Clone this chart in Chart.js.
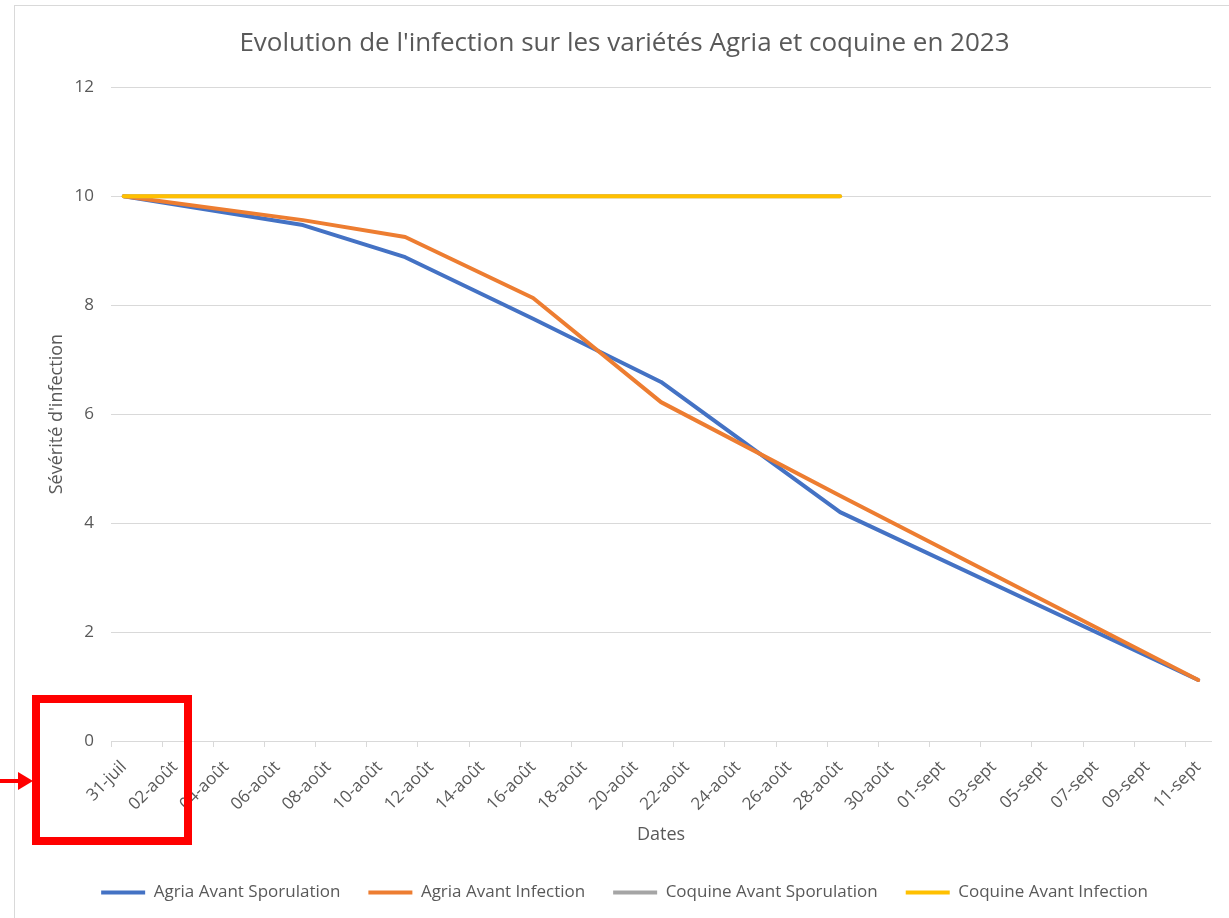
<!DOCTYPE html>
<html>
<head>
<meta charset="utf-8">
<script src="https://cdn.jsdelivr.net/npm/chart.js@4.4.1/dist/chart.umd.min.js"></script>
<style>
  html, body { margin: 0; padding: 0; background: #ffffff; }
  #wrap { position: relative; width: 1229px; height: 918px; overflow: hidden; }
  #frame { position: absolute; left: 14px; top: 5px; width: 1300px; height: 1000px; border: 1px solid #d9d9d9; box-sizing: border-box; }
  canvas { position: absolute; left: 0; top: 0; }
  #annot { position: absolute; left: 0; top: 0; pointer-events: none; }
</style>
</head>
<body>
<div id="wrap">
  <div id="frame"></div>
  <canvas id="c" width="1229" height="918"></canvas>
  <svg id="annot" width="1229" height="918">
    <rect x="36" y="699" width="152" height="142" fill="none" stroke="#ff0000" stroke-width="8"/>
    <line x1="0" y1="781" x2="20" y2="781" stroke="#ff0000" stroke-width="4"/>
    <polygon points="18,772 33,781 18,790" fill="#ff0000"/>
  </svg>
</div>
<script>
// Tick labels / categories of the date axis (one per day)
const axisDays = [
  '31-juil',
  '01-août','02-août','03-août','04-août','05-août','06-août','07-août','08-août','09-août','10-août',
  '11-août','12-août','13-août','14-août','15-août','16-août','17-août','18-août','19-août','20-août',
  '21-août','22-août','23-août','24-août','25-août','26-août','27-août','28-août','29-août','30-août','31-août',
  '01-sept','02-sept','03-sept','04-sept','05-sept','06-sept','07-sept','08-sept','09-sept','10-sept','11-sept'
];

// Observation dates
const obsDates = ['31-juil','07-août','11-août','16-août','21-août','28-août','11-sept'];

// Series values
const agriaSporulation  = [10, 9.47, 8.88, 7.75, 6.59, 4.20, 1.12];
const agriaInfection    = [10, 9.56, 9.25, 8.13, 6.22, 4.50, 1.12];
const coquineSporulation = [10, 10, 10, 10, 10, 10];
const coquineInfection   = [10, 10, 10, 10, 10, 10];

const seriesNames = ['Agria Avant Sporulation','Agria Avant Infection','Coquine Avant Sporulation','Coquine Avant Infection'];
const seriesColors = ['#4472C4','#ED7D31','#A5A5A5','#FFC000'];
const seriesValues = [agriaSporulation, agriaInfection, coquineSporulation, coquineInfection];

const FONT = "'Open Sans', 'Noto Sans', sans-serif";
const TXT = '#595959';

const datasets = seriesValues.map((vals, s) => ({
  label: seriesNames[s],
  data: vals.map((v, i) => ({ x: obsDates[i], y: v })),
  borderColor: seriesColors[s],
  backgroundColor: seriesColors[s],
  borderWidth: 4,
  borderCapStyle: 'round',
  borderJoinStyle: 'round',
  pointRadius: 0,
  pointHoverRadius: 0,
  tension: 0,
  fill: false,
  order: 4 - s
}));

new Chart(document.getElementById('c'), {
  type: 'line',
  data: { labels: axisDays, datasets },
  options: {
    responsive: false,
    animation: false,
    devicePixelRatio: 1,
    layout: { padding: { left: 38, right: 18, top: 0, bottom: 7 } },
    plugins: {
      tooltip: { enabled: false },
      title: {
        display: true,
        text: "Evolution de l'infection sur les variétés Agria et coquine en 2023",
        color: TXT,
        font: { family: FONT, size: 26, weight: 'normal' },
        padding: { top: 28, bottom: 28 }
      },
      legend: {
        position: 'bottom',
        labels: {
          color: TXT,
          font: { family: FONT, size: 17 },
          usePointStyle: true,
          pointStyle: 'line',
          pointStyleWidth: 44,
          padding: 28,
          sort: (a, b) => a.datasetIndex - b.datasetIndex
        }
      }
    },
    scales: {
      x: {
        type: 'category',
        offset: true,
        grid: {
          offset: true,
          drawOnChartArea: false,
          drawTicks: true,
          tickLength: 6,
          tickColor: (ctx) => (ctx.index !== undefined && ctx.index % 2 === 0) ? '#d9d9d9' : 'rgba(0,0,0,0)'
        },
        border: { display: true, color: '#d9d9d9', width: 1 },
        ticks: {
          autoSkip: false,
          maxRotation: 45,
          minRotation: 45,
          color: TXT,
          font: { family: FONT, size: 17 },
          padding: 10,
          labelOffset: 0,
          callback: function (value, index) { return index % 2 === 0 ? this.getLabelForValue(value) : ''; }
        },
        title: {
          display: true,
          text: 'Dates',
          color: TXT,
          font: { family: FONT, size: 18 },
          padding: { top: 0, bottom: 10 }
        },
        afterFit: (scale) => { scale.height = 115; }
      },
      y: {
        min: 0,
        max: 12,
        ticks: { stepSize: 2, color: TXT, font: { family: FONT, size: 17 }, padding: 17 },
        grid: { color: '#d9d9d9', drawTicks: false },
        border: { display: false },
        title: {
          display: true,
          text: "Sévérité d'infection",
          color: TXT,
          font: { family: FONT, size: 18 },
          padding: { top: 8, bottom: 0 }
        },
        afterFit: (scale) => { scale.width = 73; }
      }
    }
  }
});
</script>
</body>
</html>
